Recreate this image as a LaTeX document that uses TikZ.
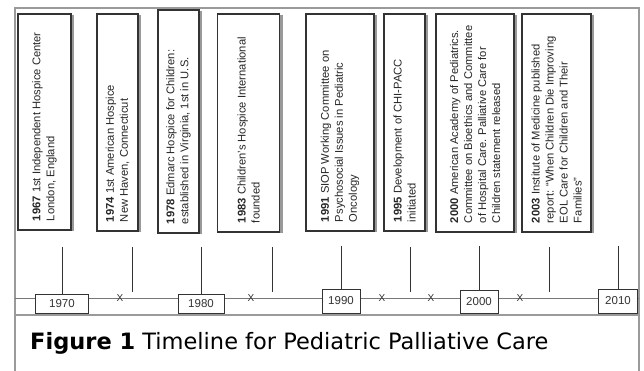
\documentclass[tikz,border=0pt]{standalone}
\usepackage{fontspec}
\setmainfont{Liberation Sans}
\newfontfamily\captionfont{DejaVu Sans}
\usetikzlibrary{shadows}
\definecolor{framegray}{HTML}{9A9A9A}
\definecolor{inkgray}{HTML}{333333}
\definecolor{axisgray}{HTML}{777777}
\newcommand{\eventtext}[2]{\rotatebox{90}{\parbox{#1pt}{\raggedright#2}}}

\begin{document}
\begin{tikzpicture}[x=1pt,y=-1pt,
    event/.style={draw=inkgray,line width=1.1pt,fill=white,inner sep=0pt,
        drop shadow={shadow xshift=3pt,shadow yshift=-1pt,fill=black!40,opacity=1},
        font=\fontsize{11.2}{14}\selectfont,text=black!85},
    year/.style={draw=inkgray,line width=0.9pt,fill=white,inner sep=0pt,
        font=\fontsize{11.5}{13}\selectfont,text=inkgray},
    cross/.style={inner sep=0pt,font=\fontsize{10}{10}\selectfont,text=inkgray},
    stem/.style={draw=inkgray,line width=0.9pt}]
    \useasboundingbox[fill=white] (0,0) rectangle (644,370);

    \draw[framegray,line width=2.2pt] (15,372) -- (15,8) -- (639,8) -- (639,372);
    \draw[framegray,line width=2.2pt] (15,315) -- (639,315);

    \node[event,minimum width=53pt,minimum height=216pt] (e1967) at (44.5,122)
        {\eventtext{198}{\textbf{1967} 1st Independent Hospice Center\\London, England}};
    \node[event,minimum width=41pt,minimum height=217pt] (e1974) at (117.5,122.5)
        {\eventtext{199}{\textbf{1974} 1st American Hospice\\New Haven, Connecticut}};
    \node[event,minimum width=41pt,minimum height=223pt] (e1978) at (178.5,121.5)
        {\eventtext{205}{\textbf{1978} Edmarc Hospice for Children:\\established in Virginia, 1st in U.S.}};
    \node[event,minimum width=62pt,minimum height=218pt] (e1983) at (248.5,123)
        {\eventtext{200}{\textbf{1983} Children’s Hospice International\\founded}};
    \node[event,minimum width=68pt,minimum height=217pt] (e1991) at (340,122.5)
        {\eventtext{199}{\textbf{1991} SIOP Working Committee on\\Psychosocial Issues in Pediatric\\Oncology}};
    \node[event,minimum width=41pt,minimum height=217pt] (e1995) at (404.5,122.5)
        {\eventtext{199}{\textbf{1995} Development of CHI-PACC\\initiated}};
    \node[event,minimum width=78pt,minimum height=218pt] (e2000) at (475,123)
        {\eventtext{200}{\textbf{2000} American Academy of Pediatrics.\\Committee on Bioethics and Committee\\of Hospital Care. Palliative Care for\\Children statement released}};
    \node[event,minimum width=69pt,minimum height=218pt] (e2003) at (556.5,123)
        {\eventtext{200}{\textbf{2003} Institute of Medicine published\\report: “When Children Die Improving\\EOL Care for Children and Their\\Families”}};

    \coordinate (axL) at (15,298);
    \coordinate (axR) at (639,298);
    \draw[axisgray,line width=1pt] (axL) -- (axR);

    \node[year,minimum width=53pt,minimum height=19pt] (y1970) at (62,303.5)  {1970};
    \node[year,minimum width=46pt,minimum height=19pt] (y1980) at (201,303.5) {1980};
    \node[year,minimum width=38pt,minimum height=24pt] (y1990) at (341,301)   {1990};
    \node[year,minimum width=38pt,minimum height=23pt] (y2000) at (479,301.5) {2000};
    \node[year,minimum width=39pt,minimum height=24pt] (y2010) at (618,301)   {2010};

    \foreach \name/\xpos in {x1/120,x2/251,x3/382,x4/431,x5/520}
        \node[cross] (\name) at (\xpos,298) {X};

    \coordinate (t1970) at (62,247);
    \coordinate (t1975) at (132,247);
    \coordinate (b1975) at (132,291.5);
    \coordinate (t1980) at (201,247);
    \coordinate (t1985) at (272,247);
    \coordinate (b1985) at (272,291.5);
    \coordinate (t1990) at (341,245.5);
    \coordinate (t1995) at (410,247);
    \coordinate (b1995) at (410,291.5);
    \coordinate (t2000) at (479,246);
    \coordinate (t2005) at (549,247);
    \coordinate (b2005) at (549,291.5);
    \coordinate (t2010) at (618,246);

    \path[stem] (t1970) edge (y1970.north)
                (t1975) edge (b1975)
                (t1980) edge (y1980.north)
                (t1985) edge (b1985)
                (t1990) edge (y1990.north)
                (t1995) edge (b1995)
                (t2000) edge (y2000.north)
                (t2005) edge (b2005)
                (t2010) edge (y2010.north)
                ;

    \node[anchor=base west,inner sep=0pt,font=\captionfont\fontsize{22.5}{26}\selectfont] (cap)
        at (30,349) {\textbf{Figure 1} Timeline for Pediatric Palliative Care};
\end{tikzpicture}
\end{document}
